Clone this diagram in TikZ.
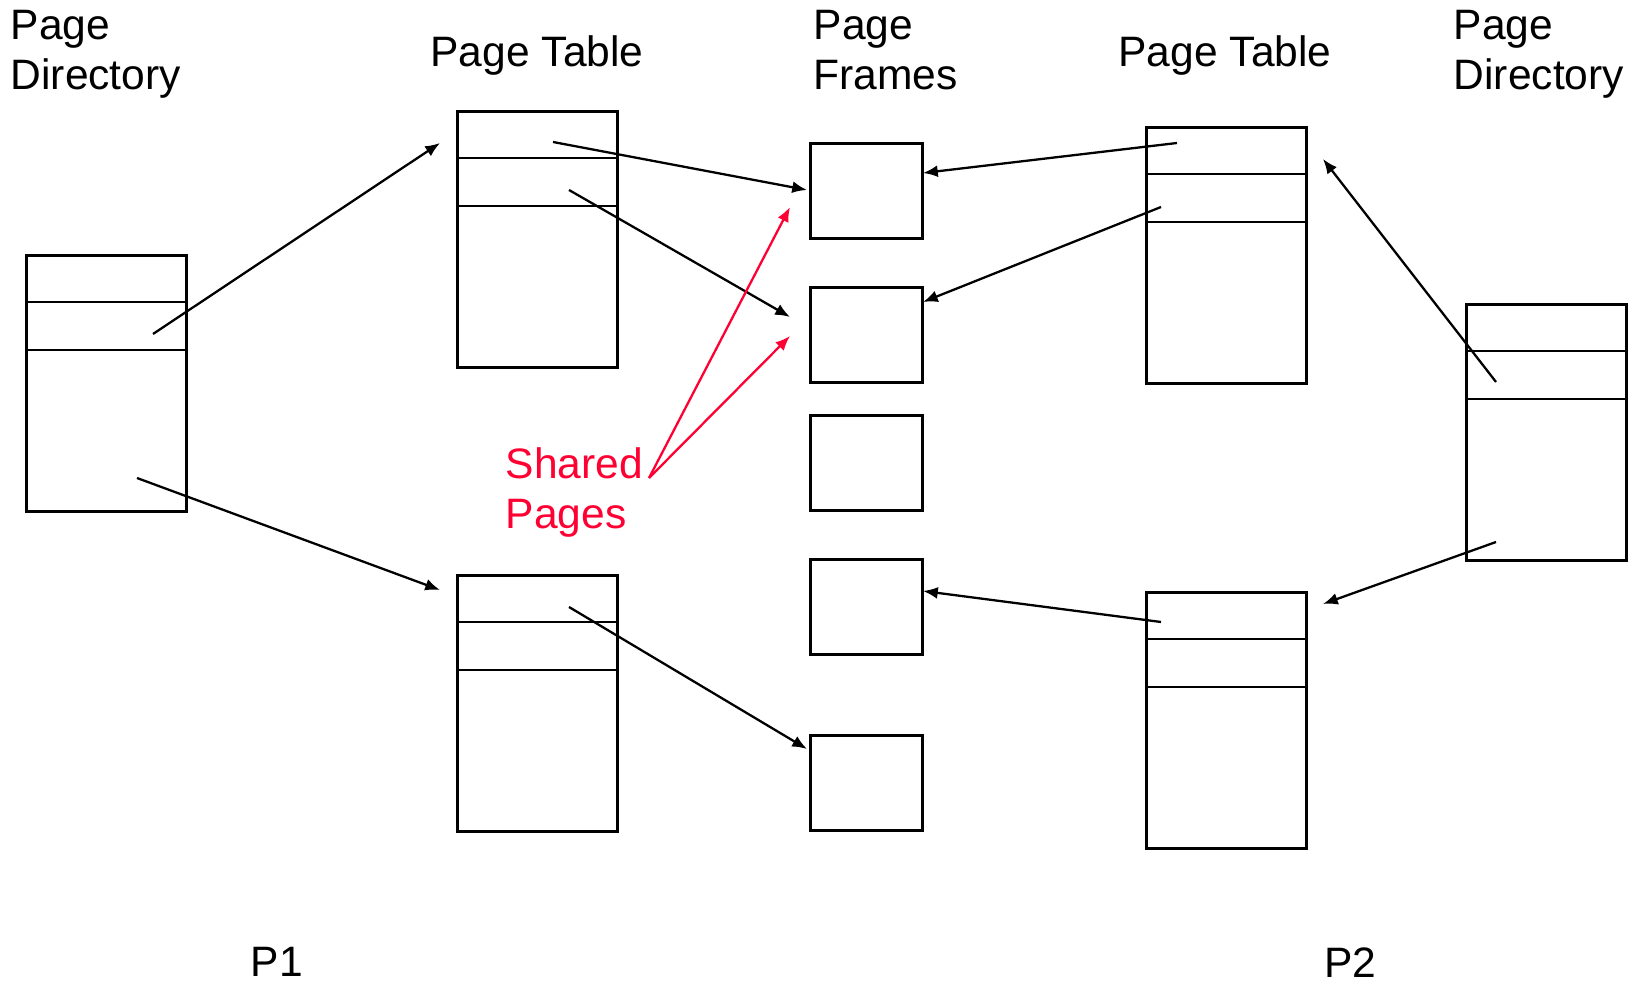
\documentclass[tikz,border=0pt]{standalone}
\usepackage{fontspec}
\setmainfont{Liberation Sans}
\usetikzlibrary{arrows.meta}
\definecolor{sharedred}{RGB}{255,0,51}

\begin{document}
\begin{tikzpicture}[x=0.01cm,y=-0.01cm,
	every node/.style={font=\fontsize{12.1}{14.2}\selectfont},
	table/.style={draw,line width=0.8pt,minimum width=1.6cm,minimum height=2.56cm,inner sep=0pt,anchor=north west},
	frame/.style={draw,line width=0.8pt,minimum width=1.12cm,minimum height=0.95cm,inner sep=0pt,anchor=north west},
	title/.style={align=left,inner sep=0pt,anchor=north west},
	ptr/.style={line width=0.65pt,-{Latex[length=4.2pt,width=3.4pt]}},
	shared/.style={ptr,sharedred}]
	\useasboundingbox (0,0) rectangle (1637,983);

	% titles
	\node[title] (pdtitle1) at (10,10) {Page\\Directory};
	\node[title,anchor=north] (pttitle1) at (537,35) {Page Table};
	\node[title] (frtitle) at (813,10) {Page\\Frames};
	\node[title,anchor=north] (pttitle2) at (1225,35) {Page Table};
	\node[title] (pdtitle2) at (1453,10) {Page\\Directory};
	\node[title,anchor=north] (p1) at (277,947) {P1};
	\node[title,anchor=north] (p2) at (1350,947) {P2};
	\node[title,text=sharedred] (sharedlbl) at (505,447) {Shared\\Pages};

	% directories and tables
	\node[table] (pd1) at (25,254) {};
	\node[table] (pt1a) at (456,110) {};
	\node[table] (pt1b) at (456,574) {};
	\node[table] (pt2a) at (1145,126) {};
	\node[table] (pt2b) at (1145,591) {};
	\node[table] (pd2) at (1465,303) {};
	\foreach \t in {pd1,pt1a,pt1b,pt2a,pt2b,pd2}
		\draw[line width=0.8pt] (\t.north west) ++(0,48) -- ++(160,0) ++(-160,48) -- ++(160,0);

	% page frames
	\node[frame] (fr1) at (809,142) {};
	\node[frame] (fr2) at (809,286) {};
	\node[frame] (fr3) at (809,414) {};
	\node[frame] (fr4) at (809,558) {};
	\node[frame] (fr5) at (809,734) {};

	% entries (arrow tails)
	\coordinate (pd1e1) at (153,334);
	\coordinate (pd1e2) at (137,478);
	\coordinate (pt1ae1) at (553,142);
	\coordinate (pt1ae2) at (569,190);
	\coordinate (pt1be1) at (569,607);
	\coordinate (pt2ae1) at (1177,143);
	\coordinate (pt2ae2) at (1161,207);
	\coordinate (pt2be1) at (1161,622);
	\coordinate (pd2e1) at (1496,382);
	\coordinate (pd2e2) at (1496,542);
	\coordinate (sharedtip) at (649,478);

	% arrow heads
	\coordinate (pt1atop) at (440,143);
	\coordinate (pt1btop) at (440,590);
	\coordinate (pt2atop) at (1323,159);
	\coordinate (pt2btop) at (1323,604);
	\coordinate (fr1in) at (807,190);
	\coordinate (fr2in) at (790,317);
	\coordinate (fr5in) at (807,749);
	\coordinate (fr1r) at (923,173);
	\coordinate (fr2r) at (923,302);
	\coordinate (fr4r) at (923,591);
	\coordinate (fr1sh) at (790,207);
	\coordinate (fr2sh) at (790,336);

	% process 1
	\draw[ptr] (pd1e1) -- (pt1atop);
	\draw[ptr] (pd1e2) -- (pt1btop);
	\draw[ptr] (pt1ae1) -- (fr1in);
	\draw[ptr] (pt1ae2) -- (fr2in);
	\draw[ptr] (pt1be1) -- (fr5in);

	% process 2
	\draw[ptr] (pt2ae1) -- (fr1r);
	\draw[ptr] (pt2ae2) -- (fr2r);
	\draw[ptr] (pt2be1) -- (fr4r);
	\draw[ptr] (pd2e1) -- (pt2atop);
	\draw[ptr] (pd2e2) -- (pt2btop);

	% shared pages
	\draw[shared] (sharedtip) -- (fr1sh);
	\draw[shared] (sharedtip) -- (fr2sh);
\end{tikzpicture}
\end{document}
